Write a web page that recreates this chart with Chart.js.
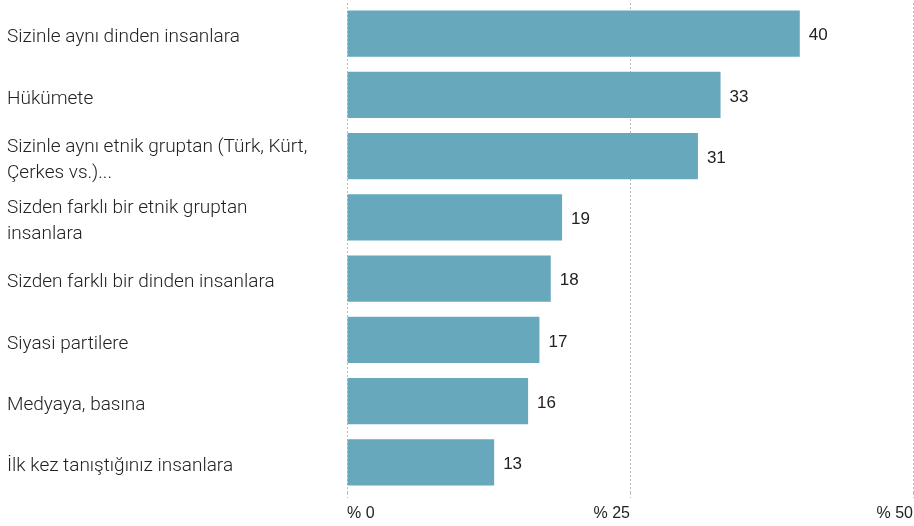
<!DOCTYPE html>
<html>
<head>
<meta charset="utf-8">
<script src="https://cdn.jsdelivr.net/npm/chart.js@4"></script>
<style>
  html, body { margin: 0; padding: 0; background: #fff; }
  #wrap { width: 914px; height: 526px; }
</style>
</head>
<body>
<div id="wrap"><canvas id="chart"></canvas></div>
<script>
// categories (multi-line labels as arrays)
var categories = [
    'Sizinle aynı dinden insanlara',
    'Hükümete',
    ['Sizinle aynı etnik gruptan (Türk, Kürt,', 'Çerkes vs.)...'],
    ['Sizden farklı bir etnik gruptan', 'insanlara'],
    'Sizden farklı bir dinden insanlara',
    'Siyasi partilere',
    'Medyaya, basına',
    'İlk kez tanıştığınız insanlara'
];
var values = [40, 33, 31, 19, 18, 17, 16, 13];
var xTicks = [0, 25, 50];
var xTickLabels = ['% 0', '% 25', '% 50'];

// value labels next to the bars
var valueLabels = {
    id: 'valueLabels',
    afterDatasetsDraw: function(chart) {
        var ctx = chart.ctx;
        var meta = chart.getDatasetMeta(0);
        ctx.save();
        ctx.font = '17px "Liberation Sans Narrow", "Liberation Sans", sans-serif';
        ctx.fillStyle = '#222';
        ctx.textAlign = 'left';
        ctx.textBaseline = 'middle';
        meta.data.forEach(function(bar, i) {
            ctx.fillText(values[i], bar.x + 9, bar.y + 2);
        });
        ctx.restore();
    }
};

// x tick labels: first one left aligned, the rest right aligned
var xLabels = {
    id: 'xLabels',
    afterDraw: function(chart) {
        var ctx = chart.ctx;
        var scale = chart.scales.x;
        ctx.save();
        ctx.font = '16px "Liberation Sans Narrow", "Liberation Sans", sans-serif';
        ctx.fillStyle = '#222';
        ctx.textBaseline = 'middle';
        xTicks.forEach(function(v, i) {
            var px = scale.getPixelForValue(v);
            ctx.textAlign = i === 0 ? 'left' : 'right';
            ctx.fillText(xTickLabels[i], px, 514);
        });
        ctx.restore();
    }
};

var ctx = document.getElementById('chart').getContext('2d');
new Chart(ctx, {
    type: 'bar',
    data: {
        labels: categories,
        datasets: [{
            data: values,
            backgroundColor: '#67a8bc',
            barPercentage: 0.752,
            categoryPercentage: 1
        }]
    },
    options: {
        indexAxis: 'y',
        responsive: true,
        maintainAspectRatio: false,
        animation: false,
        layout: { padding: { left: 7, right: 1, top: 3, bottom: 28 } },
        plugins: {
            legend: { display: false },
            tooltip: { enabled: false }
        },
        scales: {
            x: {
                min: 0,
                max: 50,
                afterBuildTicks: function(scale) {
                    scale.ticks = xTicks.map(function(v) { return { value: v }; });
                },
                ticks: { display: false },
                grid: {
                    color: '#bbb',
                    lineWidth: 1,
                    tickLength: 5,
                    tickBorderDash: [2, 2],
                    tickColor: '#bbb'
                },
                border: { display: false, dash: [2, 2] }
            },
            y: {
                afterFit: function(scale) {
                    scale.width = 340;
                    scale.paddingTop = 0;
                    scale.paddingBottom = 0;
                },
                grid: { display: false },
                border: { display: false },
                ticks: {
                    crossAlign: 'far',
                    labelOffset: 4,
                    color: '#222',
                    font: { family: 'Roboto', size: 19, weight: '300', lineHeight: 1.4 }
                }
            }
        }
    },
    plugins: [valueLabels, xLabels]
});
</script>
</body>
</html>
